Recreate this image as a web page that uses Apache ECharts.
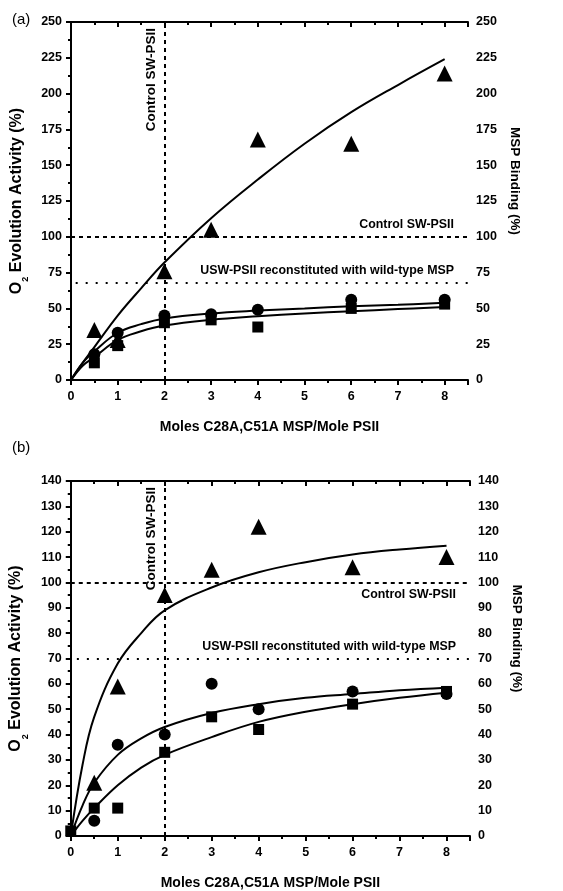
<!DOCTYPE html>
<html>
<head>
<meta charset="utf-8">
<script src="https://cdn.jsdelivr.net/npm/echarts@6/dist/echarts.min.js"></script>
<style>
  html, body { margin: 0; padding: 0; background: #fff; }
  #chart { width: 563px; height: 891px; }
</style>
</head>
<body>
<div id="chart"></div>
<script>
// measured points (x = moles C28A,C51A MSP / mole PSII)
const aX = [0.5, 1, 2, 3, 4, 6, 8];
const aTri = [35, 28, 76, 105, 168, 165, 214];
const aCirc = [18, 33, 45, 46, 49, 56, 56];
const aSq = [12, 24, 40, 42, 37, 50, 53];

const bX = [0.5, 1, 2, 3, 4, 6, 8];
const bTri = [21, 59, 95, 105, 122, 106, 110];
const bCirc = [6, 36, 40, 60, 50, 57, 56];
const bSqX = [0, 0.5, 1, 2, 3, 4, 6, 8];
const bSq = [2, 11, 11, 33, 47, 42, 52, 57];

// fitted curves
const fitX = [0, 0.25, 0.5, 1, 1.5, 2, 3, 4, 5, 6, 7, 8];
const aTriFit = [0, 12, 23, 45, 64, 82, 113, 140, 165, 187, 206, 224];
const aCircFit = [0, 12, 20, 33, 39, 43, 46.5, 48.5, 50, 51.5, 52.5, 54];
const aSqFit = [0, 10, 16, 28, 34, 38, 42, 44.5, 46.5, 48, 49.5, 51];
const bTriFit = [0, 28, 47, 68, 80, 89, 98, 104, 108, 111, 113, 114.5];
const bCircFit = [0, 12, 21, 32, 38.5, 43, 48.5, 52, 54.5, 56, 57.5, 58.5];
const bSqFit = [0, 6, 11, 20, 27, 32, 39, 45, 49, 52, 54.5, 56.5];

// reference lines
const controlLevel = 100;
const controlX = 2;
const aWildType = 68;
const bWildType = 70;

const FONT = "'Liberation Sans', Arial, sans-serif";
const pairs = (xs, ys) => xs.map((x, i) => [x, ys[i]]);

const chart = echarts.init(document.getElementById("chart"));

const tickLabel = { fontFamily: FONT, fontSize: 12.5, fontWeight: "bold", color: "#000" };

function xAxes(gridIndex) {
  const base = {
    gridIndex: gridIndex,
    type: "value",
    min: 0,
    max: 8.5,
    interval: 1,
    splitLine: { show: false },
    axisLine: { show: true, onZero: false, lineStyle: { color: "#000", width: 2 } },
    minorTick: { show: true, splitNumber: 2, length: 3, lineStyle: { color: "#000", width: 2 } },
    axisTick: { show: true, length: 5, lineStyle: { color: "#000", width: 2 } },
  };
  return [
    Object.assign({}, base, {
      position: "bottom",
      name: "Moles C28A,C51A MSP/Mole PSII",
      nameLocation: "middle",
      nameGap: 40,
      nameTextStyle: { fontFamily: FONT, fontSize: 14, fontWeight: "bold", color: "#000" },
      axisLabel: Object.assign({
        margin: 10,
        formatter: (v) => (Number.isInteger(v) ? String(v) : ""),
      }, tickLabel),
    }),
    Object.assign({}, base, {
      position: "top",
      axisTick: { show: true, inside: true, length: 5, lineStyle: { color: "#000", width: 2 } },
      minorTick: { show: true, splitNumber: 2, length: 3, lineStyle: { color: "#000", width: 2 } },
      axisLabel: { show: false },
    }),
  ];
}

function yAxes(gridIndex, max, interval, left, right) {
  const base = {
    gridIndex: gridIndex,
    type: "value",
    min: 0,
    max: max,
    interval: interval,
    splitLine: { show: false },
    axisLine: { show: true, lineStyle: { color: "#000", width: 2 } },
    nameLocation: "middle",
  };
  return [
    Object.assign({}, base, {
      position: "left",
      name: left,
      nameGap: 46,
      nameRotate: 90,
      nameTextStyle: {
        fontFamily: FONT, fontSize: 16, fontWeight: "bold", color: "#000",
        rich: { sub: { fontFamily: FONT, fontSize: 9, fontWeight: "bold", verticalAlign: "bottom", padding: [0, 0, -6, 0] } },
      },
      axisTick: { show: true, length: 5, lineStyle: { color: "#000", width: 2 } },
      minorTick: { show: true, splitNumber: 2, length: 3, lineStyle: { color: "#000", width: 2 } },
      axisLabel: Object.assign({ margin: 9 }, tickLabel),
    }),
    Object.assign({}, base, {
      position: "right",
      name: right,
      nameGap: 38,
      nameRotate: -90,
      nameTextStyle: { fontFamily: FONT, fontSize: 13.5, fontWeight: "bold", color: "#000", padding: [0, 40, 0, 0] },
      axisTick: { show: true, inside: true, length: 5, lineStyle: { color: "#000", width: 2 } },
      minorTick: { show: true, splitNumber: 2, length: 3, lineStyle: { color: "#000", width: 2 } },
      axisLabel: Object.assign({ margin: 8 }, tickLabel),
    }),
  ];
}

const labelStyle = { fontFamily: FONT, fontSize: 12.4, fontWeight: "bold", color: "#000" };

function refLines(yMax, wildType, wildStart, controlBelow) {
  return {
    silent: true,
    symbol: "none",
    animation: false,
    data: [
      [
        { coord: [0, controlLevel], lineStyle: { type: [4, 4], width: 2, color: "#000" } },
        {
          coord: [8.5, controlLevel],
          label: Object.assign({ show: true, formatter: "Control SW-PSII", position: controlBelow ? "insideEndBottom" : "insideEndTop", distance: [14, 6] }, labelStyle),
        },
      ],
      [
        { coord: [wildStart, wildType], lineStyle: { type: [2, 8], width: 2, color: "#000" } },
        {
          coord: [8.5, wildType],
          label: Object.assign({ show: true, formatter: "USW-PSII reconstituted with wild-type MSP", position: "insideEndTop", distance: [14, 6] }, labelStyle),
        },
      ],
      [
        { coord: [controlX, 0], lineStyle: { type: [4, 4], width: 2, color: "#000" } },
        {
          coord: [controlX, yMax],
          label: Object.assign({}, labelStyle, { show: true, formatter: "Control SW-PSII", position: "insideEndTop", distance: [6, 6], fontSize: 13.5 }),
        },
      ],
    ],
  };
}

function panelSeries(xi, yi, pts, fits, lines) {
  const scatter = (data, symbol, size) => ({
    type: "scatter", xAxisIndex: xi, yAxisIndex: yi, data: data,
    symbol: symbol, symbolSize: size, itemStyle: { color: "#000", opacity: 1 }, z: 4,
  });
  const line = (ys) => ({
    type: "line", xAxisIndex: xi, yAxisIndex: yi, data: pairs(fitX, ys),
    smooth: 0.4, showSymbol: false, lineStyle: { color: "#000", width: 2 }, z: 3,
  });
  const out = [
    scatter(pts[0], "triangle", 16),
    scatter(pts[1], "circle", 12),
    scatter(pts[2], "rect", 11),
    line(fits[0]), line(fits[1]), line(fits[2]),
  ];
  out[0].markLine = lines;
  return out;
}

const leftName = "O{sub|2} Evolution Activity (%)";

const option = {
  animation: false,
  backgroundColor: "#fff",
  grid: [
    { left: 71, top: 22, width: 397, height: 358 },
    { left: 69, top: 481, width: 401, height: 358 },
  ],
  graphic: [
    { type: "text", left: 12, top: 12, style: { text: "(a)", font: "15px " + FONT, fill: "#000" } },
    { type: "text", left: 12, top: 440, style: { text: "(b)", font: "15px " + FONT, fill: "#000" } },
  ],
  xAxis: xAxes(0).concat(xAxes(1)),
  yAxis: yAxes(0, 250, 25, leftName, "MSP Binding (%)").concat(yAxes(1, 140, 10, leftName, "MSP Binding (%)")),
  series: [].concat(
    panelSeries(0, 0,
      [pairs(aX, aTri), pairs(aX, aCirc), pairs(aX, aSq)],
      [aTriFit, aCircFit, aSqFit],
      refLines(250, aWildType, 0.1, false)),
    panelSeries(2, 2,
      [pairs(bX, bTri), pairs(bX, bCirc), pairs(bSqX, bSq)],
      [bTriFit, bCircFit, bSqFit],
      refLines(140, bWildType, 0.13, true))
  ),
};

chart.setOption(option);
</script>
</body>
</html>
